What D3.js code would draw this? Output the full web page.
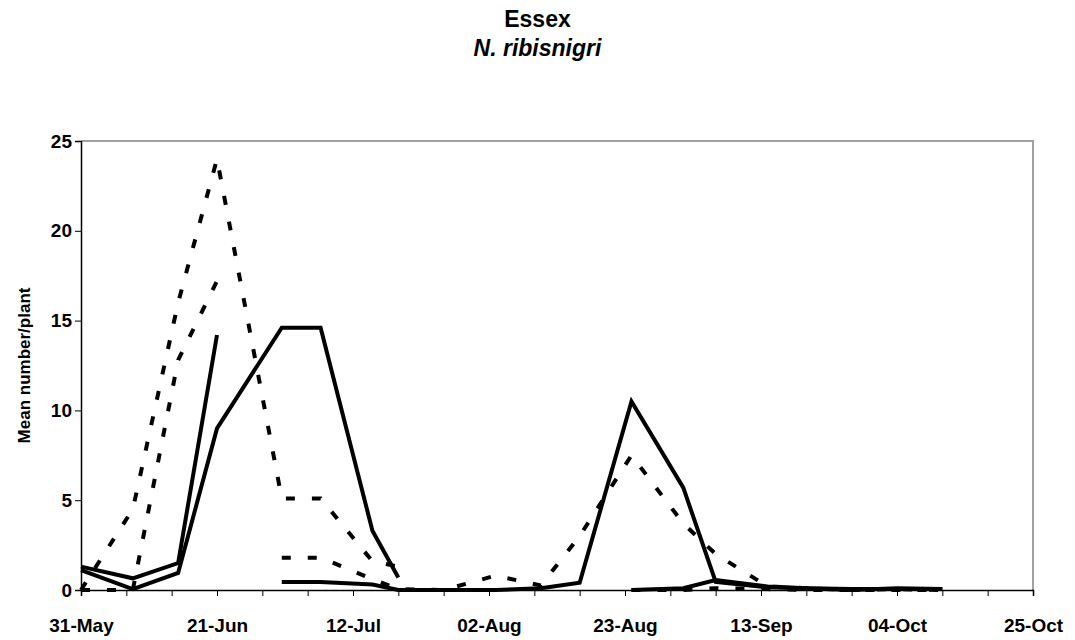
<!DOCTYPE html>
<html>
<head>
<meta charset="utf-8">
<script src="https://cdn.jsdelivr.net/npm/d3@7"></script>
<style>
    body { margin: 0; background: #fff; }
    svg text { font-family: "Liberation Sans", Arial, sans-serif; font-weight: bold; fill: #000; }
</style>
</head>
<body>
<div id="chart"></div>
<script>
// --- data ---
let titleMain = "Essex";
let titleSpecies = "N. ribisnigri";
let yLabel = "Mean number/plant";

let axisStart = "31-May", axisEnd = "25-Oct";
let xTickLabels = ["31-May", "21-Jun", "12-Jul", "02-Aug", "23-Aug", "13-Sep", "04-Oct", "25-Oct"];
let yTicks = [0, 5, 10, 15, 20, 25];

// [sample date, mean number/plant]; null leaves a gap in the line
let solidA = [["31-May", 1.3], ["08-Jun", 0.65], ["15-Jun", 1.5], ["21-Jun", 14.2], ["26-Jun", null],
    ["01-Jul", 0.45], ["07-Jul", 0.45], ["15-Jul", 0.3], ["19-Jul", 0], ["26-Jul", 0], ["03-Aug", 0],
    ["10-Aug", 0.1], ["16-Aug", 0.4], ["24-Aug", 10.5], ["01-Sep", 5.7], ["06-Sep", 0.45],
    ["14-Sep", 0.15], ["20-Sep", 0.1], ["27-Sep", 0], ["04-Oct", 0.1], ["11-Oct", 0.05]];

let solidB = [["31-May", 1.1], ["08-Jun", 0.05], ["15-Jun", 0.95], ["21-Jun", 9.0], ["01-Jul", 14.6],
    ["07-Jul", 14.6], ["15-Jul", 3.3], ["19-Jul", 0.7], ["26-Jul", null], ["24-Aug", 0],
    ["01-Sep", 0.1], ["06-Sep", 0.55], ["14-Sep", 0.2], ["20-Sep", 0.1], ["27-Sep", 0.05],
    ["04-Oct", 0.05], ["11-Oct", 0.05]];

let dashA = [["31-May", 0], ["08-Jun", 4.5], ["15-Jun", 16.0], ["21-Jun", 24.0], ["01-Jul", 5.1],
    ["07-Jul", 5.1], ["15-Jul", 1.6], ["19-Jul", 1.3], ["26-Jul", null], ["24-Aug", 0],
    ["01-Sep", 0], ["06-Sep", 0.1], ["14-Sep", 0.05], ["20-Sep", 0], ["27-Sep", 0],
    ["04-Oct", 0], ["11-Oct", 0]];

let dashB = [["31-May", 0], ["08-Jun", 0], ["15-Jun", 12.8], ["21-Jun", 17.2], ["26-Jun", null],
    ["01-Jul", 1.8], ["07-Jul", 1.8], ["15-Jul", 0.6], ["19-Jul", 0.05], ["26-Jul", 0],
    ["03-Aug", 0.8], ["10-Aug", 0.25], ["16-Aug", 3.0], ["24-Aug", 7.5], ["01-Sep", 3.7],
    ["06-Sep", 2.0], ["14-Sep", 0.2], ["20-Sep", 0.1], ["27-Sep", 0], ["04-Oct", 0.05], ["11-Oct", 0]];

// --- chart ---
let wSvg = 1075, hSvg = 640;
let plotLeft = 81, plotRight = 1033, plotTop = 141, plotBottom = 590;

let parseDate = d3.timeParse("%d-%b-%Y");
let toDate = s => parseDate(s + "-2005");
let fmt = d3.timeFormat("%d-%b");

let svg = d3.select("#chart").append("svg")
    .attr("width", wSvg).attr("height", hSvg);

let xScale = d3.scaleTime()
    .domain([toDate(axisStart), toDate(axisEnd)])
    .range([plotLeft, plotRight]);

let yScale = d3.scaleLinear()
    .domain([0, 25])
    .range([plotBottom, plotTop]);

// plot frame (top and right)
svg.append("path")
    .attr("d", `M${plotLeft},${plotTop}H${plotRight}V${plotBottom}`)
    .attr("fill", "none")
    .attr("stroke", "#a0a0a0")
    .attr("stroke-width", 2);

// x axis: a tick every week, a label every third week
let weekTicks = d3.timeDay.range(toDate(axisStart), d3.timeDay.offset(toDate(axisEnd), 1), 7);
let xAxis = svg.append("g")
    .attr("transform", `translate(0, ${plotBottom})`)
    .call(d3.axisBottom(xScale)
        .tickValues(weekTicks)
        .tickSize(6)
        .tickFormat(d => xTickLabels.includes(fmt(d)) ? fmt(d) : ""));
xAxis.select(".domain").attr("stroke", "#000").attr("stroke-width", 1.5);
xAxis.selectAll(".tick line").attr("stroke", "#000");
xAxis.selectAll("text")
    .attr("dy", "1.75em")
    .style("font-size", "19px");

let yAxis = svg.append("g")
    .attr("transform", `translate(${plotLeft}, 0)`)
    .call(d3.axisLeft(yScale).tickValues(yTicks).tickSize(6).tickFormat(d3.format("d")));
yAxis.select(".domain").attr("stroke", "#000").attr("stroke-width", 1.5);
yAxis.selectAll(".tick line").attr("stroke", "#000");
yAxis.selectAll("text")
    .attr("x", -9)
    .style("font-size", "19px");

svg.append("text")
    .attr("transform", `translate(24, ${(plotTop + plotBottom) / 2}) rotate(-90)`)
    .attr("text-anchor", "middle")
    .attr("dy", "0.35em")
    .style("font-size", "17px")
    .text(yLabel);

svg.append("text")
    .attr("x", wSvg / 2).attr("y", 27)
    .attr("text-anchor", "middle")
    .style("font-size", "23px")
    .text(titleMain);

svg.append("text")
    .attr("x", wSvg / 2).attr("y", 56)
    .attr("text-anchor", "middle")
    .style("font-size", "23px")
    .style("font-style", "italic")
    .text(titleSpecies);

// lines
let line = d3.line()
    .defined(d => d[1] !== null)
    .x(d => xScale(toDate(d[0])))
    .y(d => yScale(d[1]));

let allSeries = [
    { data: dashA, dash: "9,17" },
    { data: dashB, dash: "9,17" },
    { data: solidA, dash: null },
    { data: solidB, dash: null }
];

svg.selectAll("path.series")
    .data(allSeries)
    .enter()
    .append("path")
    .attr("class", "series")
    .attr("d", d => line(d.data))
    .attr("fill", "none")
    .attr("stroke", "#000")
    .attr("stroke-width", 4)
    .attr("stroke-linejoin", "miter")
    .attr("stroke-dasharray", d => d.dash);
</script>
</body>
</html>
